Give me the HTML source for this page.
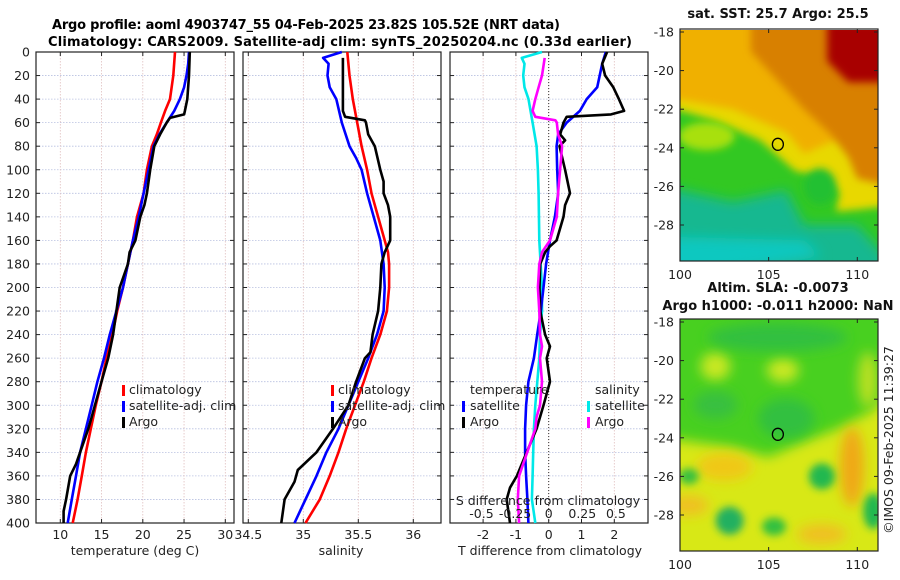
<!DOCTYPE html>
<html><head><meta charset="utf-8"><style>
html,body{margin:0;padding:0;background:#fff;width:900px;height:580px;overflow:hidden}
svg{display:block;font-family:"DejaVu Sans","Liberation Sans",sans-serif}
</style></head><body>
<svg id="fig" width="900" height="580" viewBox="0 0 900 580" xmlns="http://www.w3.org/2000/svg">
<defs>
<filter id="blur1" filterUnits="userSpaceOnUse" x="600" y="0" width="300" height="580"><feGaussianBlur stdDeviation="4"/></filter>
<filter id="blur2" filterUnits="userSpaceOnUse" x="600" y="0" width="300" height="580"><feGaussianBlur stdDeviation="6"/></filter>
<clipPath id="clipTop"><rect x="680" y="30" width="198" height="231"/></clipPath>
<clipPath id="clipBot"><rect x="680" y="319" width="198" height="232"/></clipPath>
</defs>
<text x="306" y="29" text-anchor="middle" font-size="13" font-weight="bold" textLength="508">Argo profile: aoml 4903747_55 04-Feb-2025 23.82S 105.52E (NRT data)</text>
<text x="340" y="46" text-anchor="middle" font-size="13" font-weight="bold" textLength="584">Climatology: CARS2009. Satellite-adj clim: synTS_20250204.nc (0.33d earlier)</text>
<g id="panels"></g>
<g id="maps"></g>
<text transform="translate(893,440) rotate(-90)" text-anchor="middle" font-size="12.5" fill="#222">©IMOS 09-Feb-2025 11:39:27</text>
</svg>
<script>
// ---------- data ----------
const depthTicks = [0,20,40,60,80,100,120,140,160,180,200,220,240,260,280,300,320,340,360,380,400];
const tempTicks = [10,15,20,25,30];
const salTicks = [34.5,35,35.5,36];
const salTickLabels = ["34.5","35","35.5","36"];
const dTTicks = [-2,-1,0,1,2];
const dSTicks = [-0.5,-0.25,0,0.25,0.5];
const dSTickLabels = ["-0.5","-0.25","0","0.25","0.5"];

const tClimDepth = [0,20,40,50,60,70,80,100,120,140,160,180,200,220,240,260,280,300,320,340,360,380,400];
const tClimVal   = [23.9,23.7,23.3,22.7,22.2,21.7,21.1,20.5,20.1,19.3,18.8,18.2,17.6,16.9,16.3,15.6,15.0,14.3,13.7,13.1,12.6,12.1,11.5];
const tSatDepth = [0,10,20,30,40,50,60,70,80,100,120,140,160,180,200,220,240,260,280,300,320,340,360,380,400];
const tSatVal   = [25.6,25.5,25.3,25.0,24.5,23.8,22.9,22.0,21.3,20.7,20.1,19.5,18.8,18.2,17.6,16.8,16.0,15.3,14.5,13.8,13.1,12.4,11.9,11.4,10.9];
const tArgoDepth = [0,20,40,50,53,56,60,70,80,100,120,130,140,160,170,180,200,220,240,260,280,300,310,320,340,350,360,380,390,400];
const tArgoVal   = [25.7,25.6,25.4,25.1,25.0,23.3,22.9,22.1,21.4,20.9,20.5,20.2,19.7,19.1,18.4,18.2,17.2,16.8,16.4,15.8,15.0,14.2,13.8,13.4,12.4,11.9,11.2,10.7,10.4,10.4];

const sClimDepth = [0,20,40,60,80,100,120,140,160,170,180,200,220,240,260,280,300,320,340,360,380,400];
const sClimVal   = [35.40,35.42,35.45,35.49,35.53,35.58,35.62,35.68,35.74,35.77,35.78,35.78,35.76,35.70,35.62,35.55,35.47,35.39,35.32,35.24,35.15,35.02];
const sSatDepth = [0,5,10,20,30,40,60,80,90,100,120,140,160,180,200,220,240,260,280,300,320,340,360,380,400];
const sSatVal   = [35.35,35.18,35.23,35.22,35.24,35.30,35.35,35.42,35.48,35.53,35.58,35.64,35.70,35.73,35.74,35.73,35.67,35.59,35.50,35.41,35.32,35.21,35.12,35.02,34.92];
const sArgoDepth = [5,50,55,58,60,70,80,100,110,120,130,140,160,170,180,200,220,240,255,260,280,300,320,340,355,365,380,400];
const sArgoVal   = [35.36,35.36,35.38,35.56,35.57,35.59,35.65,35.70,35.73,35.73,35.77,35.79,35.79,35.74,35.71,35.70,35.68,35.63,35.61,35.56,35.48,35.41,35.27,35.12,34.95,34.92,34.83,34.80];

const dTSatDepth = [0,10,30,40,50,60,70,80,100,120,140,160,180,200,220,240,260,280,300,320,340,360,380,400];
const dTSatVal   = [1.74,1.63,1.48,1.16,0.95,0.55,0.29,0.24,0.26,0.29,0.19,0.04,-0.08,-0.16,-0.24,-0.35,-0.45,-0.62,-0.69,-0.72,-0.72,-0.69,-0.65,-0.62];
const dTArgoDepth = [0,10,20,30,40,50,53,55,60,70,75,80,100,120,130,140,160,165,170,180,200,220,240,250,260,280,300,320,340,360,370,380,400];
const dTArgoVal   = [1.78,1.63,1.72,1.97,2.14,2.30,1.9,0.55,0.45,0.35,0.50,0.33,0.50,0.65,0.50,0.45,0.24,0.04,-0.11,-0.26,-0.28,-0.26,-0.11,0.04,-0.06,0.04,-0.16,-0.37,-0.67,-0.97,-1.18,-1.28,-1.18];
const dSSatDepth = [0,5,10,20,30,40,60,80,100,120,160,200,220,240,260,280,300,320,340,360,380,400];
const dSSatVal   = [-0.05,-0.20,-0.18,-0.19,-0.18,-0.15,-0.12,-0.09,-0.08,-0.075,-0.07,-0.05,-0.05,-0.065,-0.07,-0.085,-0.10,-0.11,-0.115,-0.12,-0.125,-0.10];
const dSArgoDepth = [5,20,30,40,50,55,58,60,70,80,100,120,140,160,170,180,200,220,240,250,260,280,300,310,320,340,360,380,400];
const dSArgoVal   = [-0.03,-0.05,-0.075,-0.10,-0.12,-0.10,0.05,0.06,0.07,0.10,0.085,0.07,0.06,0.01,-0.05,-0.07,-0.08,-0.07,-0.065,-0.05,-0.065,-0.05,-0.065,-0.09,-0.10,-0.16,-0.22,-0.23,-0.22];

const latTicks = [-18,-20,-22,-24,-26,-28];
const lonTicks = [100,105,110];
const argoLon = 105.52, argoLat = -23.82;

// ---------- helpers ----------
const NS = "http://www.w3.org/2000/svg";
function mk(tag, attrs, parent){ const e=document.createElementNS(NS,tag); for(const k in attrs) e.setAttribute(k,attrs[k]); parent.appendChild(e); return e; }
const yTop=52, yBot=523;
const yScale = d => yTop + d/400*(yBot-yTop);
const panels = document.getElementById('panels');

function makeX(x0,x1,v0,v1){ return v => x0 + (v-v0)/(v1-v0)*(x1-x0); }

function framePanel(name,x0,x1,xTicks,xLabels,xs,showY,zeroLine){
  const g = mk('g',{},panels);
  
  
  depthTicks.forEach(d=>{
    const y=yScale(d);
    if(d>0&&d<400) mk('line',{x1:x0,x2:x1,y1:y,y2:y,stroke:'#b8c0e0','stroke-width':0.8,'stroke-dasharray':'1.5,1.5'},g);
    mk('line',{x1:x0,x2:x0+4,y1:y,y2:y,stroke:'#222','stroke-width':1},g);
    mk('line',{x1:x1-4,x2:x1,y1:y,y2:y,stroke:'#222','stroke-width':1},g);
    if(showY){ const t=mk('text',{x:30,y:y+4.5,'text-anchor':'end','font-size':12.5,fill:'#222'},g); t.textContent=d;
        }
  });
  xTicks.forEach((v,i)=>{
    const x=xs(v);
    mk('line',{x1:x,x2:x,y1:yTop,y2:yBot,stroke:'#e0c0c0','stroke-width':0.8,'stroke-dasharray':'1.5,1.5'},g);
    mk('line',{x1:x,x2:x,y1:yTop,y2:yTop+4,stroke:'#222'},g);
    mk('line',{x1:x,x2:x,y1:yBot-4,y2:yBot,stroke:'#222'},g);
    if(xLabels){ const t=mk('text',{x:x,y:539,'text-anchor':'middle','font-size':12.5,fill:'#222'},g); t.textContent=xLabels[i];
        }
  });
  if(zeroLine) mk('line',{x1:xs(0),x2:xs(0),y1:yTop,y2:yBot,stroke:'#333','stroke-width':1,'stroke-dasharray':'1,2'},g);
  const r=mk('rect',{x:x0,y:yTop,width:x1-x0,height:yBot-yTop,fill:'none',stroke:'#222','stroke-width':1.2},g);
   
  return g;
}
function line(g,xs,depths,vals,color,name){
  const pts = depths.map((d,i)=>xs(vals[i]).toFixed(1)+','+yScale(d).toFixed(1)).join(' ');
  const p = mk('polyline',{points:pts,fill:'none',stroke:color,'stroke-width':2.6,'stroke-linejoin':'round'},g);
  
  
}
function label(g,x,y,txt,name,anchor){
  const t=mk('text',{x:x,y:y,'text-anchor':anchor||'start','font-size':12.5,fill:'#222'},g); t.textContent=txt;
  
  
  return t;
}
function legendBar(g,x,y,color){ mk('rect',{x:x,y:y-9,width:3,height:11,fill:color},g); }

// ---------- panel 1: temperature ----------
const xT = makeX(60.3,225.3,10,30);
const g1 = framePanel('temperature-panel',36,234,tempTicks,tempTicks.map(String),xT,true,false);
line(g1,xT,tClimDepth,tClimVal,'#ff0000','temp-climatology-line');
line(g1,xT,tSatDepth,tSatVal,'#0000ff','temp-satellite-line');
line(g1,xT,tArgoDepth,tArgoVal,'#000','temp-argo-line');
legendBar(g1,122,394,'#ff0000'); label(g1,129,394,'climatology','legend-climatology');
legendBar(g1,122,410,'#0000ff'); label(g1,129,410,'satellite-adj. clim','legend-satellite');
legendBar(g1,122,426,'#000'); label(g1,129,426,'Argo','legend-argo');
label(g1,135,555,'temperature (deg C)','x-axis-title-temperature','middle');

// ---------- panel 2: salinity ----------
const xS = makeX(248.3,413.3,34.5,36);
const g2 = framePanel('salinity-panel',243,441,salTicks,salTickLabels,xS,false,false);
line(g2,xS,sClimDepth,sClimVal,'#ff0000','sal-climatology-line');
line(g2,xS,sSatDepth,sSatVal,'#0000ff','sal-satellite-line');
line(g2,xS,sArgoDepth,sArgoVal,'#000','sal-argo-line');
legendBar(g2,331,394,'#ff0000'); label(g2,338,394,'climatology','legend-climatology');
legendBar(g2,331,410,'#0000ff'); label(g2,338,410,'satellite-adj. clim','legend-satellite');
legendBar(g2,331,426,'#000'); label(g2,338,426,'Argo','legend-argo');
label(g2,341,555,'salinity','x-axis-title-salinity','middle');

// ---------- panel 3: differences ----------
const xdT = makeX(548.7,614.3,0,2);
const xdS = makeX(548.7,582.3,0,0.25);
const g3 = framePanel('difference-panel',450,648,dTTicks,dTTicks.map(String),xdT,false,true);
line(g3,xdS,dSSatDepth,dSSatVal,'#00e8e8','sal-diff-satellite-line');
line(g3,xdT,dTSatDepth,dTSatVal,'#0000ff','temp-diff-satellite-line');
line(g3,xdT,dTArgoDepth,dTArgoVal,'#000','temp-diff-argo-line');
line(g3,xdS,dSArgoDepth,dSArgoVal,'#ff00ff','sal-diff-argo-line');
label(g3,470,394,'temperature','legend-temperature-header');
legendBar(g3,462,410,'#0000ff'); label(g3,470,410,'satellite','legend-temp-satellite');
legendBar(g3,462,426,'#000'); label(g3,470,426,'Argo','legend-temp-argo');
label(g3,595,394,'salinity','legend-salinity-header');
legendBar(g3,587,410,'#00e8e8'); label(g3,595,410,'satellite','legend-sal-satellite');
legendBar(g3,587,426,'#ff00ff'); label(g3,595,426,'Argo','legend-sal-argo');
label(g3,548,505,'S difference from climatology','s-axis-title','middle');
dSTicks.forEach((v,i)=>label(g3,xdS(v),518,dSTickLabels[i],'s-tick-label','middle'));
label(g3,550,555,'T difference from climatology','x-axis-title-tdiff','middle');

// ---------- maps ----------
const maps = document.getElementById('maps');
const lonX = v => 680 + (v-100)*17.73;
function mapFrame(name,top,titleLines,drawFn){
  const latY = v => top + 3 + (v+18)*(-19.3);
  const g = mk('g',{},maps);
  
  
  titleLines.forEach((t,i)=>{ const e=mk('text',{x:778,y:t[1],'text-anchor':'middle','font-size':13,'font-weight':'bold',fill:'#111'},g); e.textContent=t[0];
      });
  const body = mk('g',{'clip-path':'url(#'+(top<100?'clipTop':'clipBot')+')'},g);
  drawFn(body,latY);
  latTicks.forEach(v=>{ const y=latY(v);
    mk('line',{x1:680,x2:684,y1:y,y2:y,stroke:'#222'},g); mk('line',{x1:874,x2:878,y1:y,y2:y,stroke:'#222'},g);
    label(g,674,y+4.5,String(v),'lat-tick-label','end'); });
  lonTicks.forEach(v=>{ const x=lonX(v);
    mk('line',{x1:x,x2:x,y1:top,y2:top+4,stroke:'#222'},g); mk('line',{x1:x,x2:x,y1:top+228,y2:top+232,stroke:'#222'},g);
    label(g,x,top+250,String(v),'lon-tick-label','middle'); });
  const c=mk('ellipse',{cx:lonX(argoLon),cy:latY(argoLat),rx:5.5,ry:6,fill:'none',stroke:'#000','stroke-width':1.3},g);
   
  mk('rect',{x:680,y:top,width:198,height:232,fill:'none',stroke:'#222','stroke-width':1.2},g);
}
function poly(g,latY,pts,fill,filt){ return mk('polygon',{points:pts.map(p=>lonX(p[0]).toFixed(1)+','+latY(p[1]).toFixed(1)).join(' '),fill:fill,filter:filt||'url(#blur1)'},g); }
function blob(g,latY,lon,lat,rx,ry,fill,filt){ return mk('ellipse',{cx:lonX(lon),cy:latY(lat),rx:rx,ry:ry,fill:fill,filter:filt||'url(#blur1)'},g); }

mapFrame('sst-map',29,[['sat. SST: 25.7 Argo: 25.5',18]],(g,latY)=>{
  mk('rect',{x:680,y:29,width:198,height:232,fill:'#e8d800'},g);
  poly(g,latY,[[99,-17],[112,-17],[112,-23],[109,-23.5],[107,-24.3],[106,-23.2],[103,-22],[100,-21.5],[99,-21.5]],'#f0b000');
  poly(g,latY,[[104,-17],[112,-17],[112,-26],[110,-25.6],[109.5,-24.5],[108.5,-23.3],[107,-22],[105.5,-20.5],[104,-19]],'#d88000');
  poly(g,latY,[[108.3,-17.5],[112,-17.5],[112,-20.6],[109.5,-20.6],[108.3,-19.5]],'#a80000','url(#blur1)');
  poly(g,latY,[[99,-21.8],[102,-22.6],[104.5,-23.6],[105.5,-24.4],[106.5,-25.2],[108,-25.5],[109,-26.3],[108.8,-27.3],[110,-27.2],[112,-27],[112,-31],[99,-31]],'#30c820');
  blob(g,latY,101.5,-23.4,28,14,'#a8e010');
  blob(g,latY,107.9,-26,16,18,'#20c030');
  poly(g,latY,[[99,-26],[103,-26.8],[106,-26.2],[107,-28],[110,-28],[112,-30],[112,-31],[99,-31]],'#18b890','url(#blur2)');
  poly(g,latY,[[99,-28.6],[107,-28.8],[108,-29.6],[99,-31]],'#10c8c0','url(#blur2)');
});

mapFrame('sla-map',319,[['Altim. SLA: -0.0073',292],['Argo h1000: -0.011 h2000: NaN',310]],(g,latY)=>{
  mk('rect',{x:680,y:319,width:198,height:232,fill:'#48d020'},g);
  poly(g,latY,[[99,-24],[103,-24.5],[105,-25],[107,-24.2],[109,-23.5],[111,-22.5],[112,-21],[112,-31],[99,-31]],'#d8e818','url(#blur2)');
  blob(g,latY,102.5,-25.5,28,14,'#f0c818','url(#blur2)');
  blob(g,latY,100.5,-27.5,20,10,'#f0c020','url(#blur2)');
  blob(g,latY,109.7,-25.5,12,40,'#f0a818','url(#blur2)');
  blob(g,latY,108,-29,25,10,'#f0c020','url(#blur2)');
  blob(g,latY,102,-20.3,15,14,'#c8e820','url(#blur2)');
  blob(g,latY,105.8,-20.5,16,12,'#c8e820','url(#blur2)');
  blob(g,latY,110.6,-21,10,28,'#b8e020','url(#blur2)');
  blob(g,latY,105.5,-18.8,70,14,'#30c040','url(#blur2)');
  blob(g,latY,106,-23,28,20,'#30c040','url(#blur2)');
  blob(g,latY,102,-22.3,22,14,'#38c040','url(#blur2)');
  blob(g,latY,108,-26,13,13,'#20b850','url(#blur1)');
  blob(g,latY,102.8,-28.3,14,14,'#20b060','url(#blur1)');
  blob(g,latY,105.3,-28.6,12,9,'#30c040','url(#blur1)');
  blob(g,latY,110.9,-27.8,10,18,'#20b850','url(#blur1)');
  blob(g,latY,100.5,-26,10,8,'#38c040','url(#blur1)');
});
</script>
</body></html>
